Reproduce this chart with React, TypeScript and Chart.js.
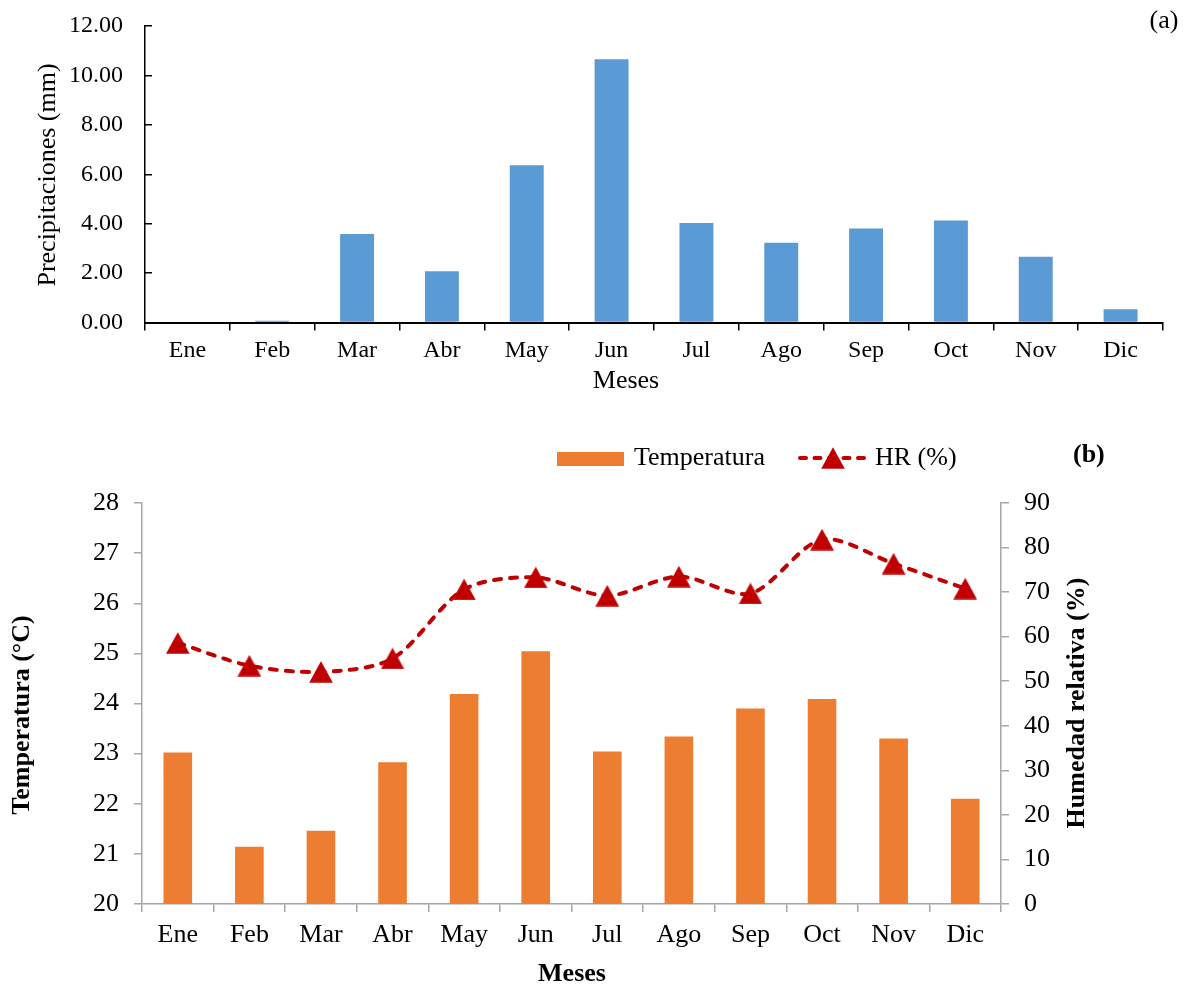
import React, { useEffect, useRef } from 'react';
import { Chart, registerables } from 'chart.js';

Chart.register(...registerables);

const months = ['Ene', 'Feb', 'Mar', 'Abr', 'May', 'Jun', 'Jul', 'Ago', 'Sep', 'Oct', 'Nov', 'Dic'];
const precipitation = [0, 0.07, 3.58, 2.07, 6.36, 10.65, 4.03, 3.23, 3.8, 4.13, 2.66, 0.54];
const temperature = [23.02, 21.14, 21.46, 22.83, 24.19, 25.04, 23.04, 23.34, 23.9, 24.09, 23.3, 22.1];
const humidity = [58.6, 53.5, 52.1, 55.1, 70.6, 73.3, 69.2, 73.5, 69.7, 81.8, 76.4, 70.8];
const precipTicks = [0, 2, 4, 6, 8, 10, 12];
const tempTicks = [20, 21, 22, 23, 24, 25, 26, 27, 28];
const hrTicks = [0, 10, 20, 30, 40, 50, 60, 70, 80, 90];

const SERIF = "'Liberation Serif', 'Times New Roman', serif";
const BLUE = '#5B9BD5';
const ORANGE = '#ED7D31';
const RED = '#C00000';
const GREY = '#A6A6A6';

type TextItem = { text: string; x: number; y: number; size: number; bold?: boolean; align?: CanvasTextAlign; rotate?: number };

function drawText(ctx: CanvasRenderingContext2D, it: TextItem) {
  ctx.save();
  ctx.translate(it.x, it.y);
  if (it.rotate) ctx.rotate(it.rotate);
  ctx.font = `${it.bold ? 'bold ' : ''}${it.size}px ${SERIF}`;
  ctx.fillStyle = '#000';
  ctx.textAlign = it.align || 'center';
  ctx.textBaseline = 'middle';
  ctx.fillText(it.text, 0, 0);
  ctx.restore();
}

function makeTriangle(): HTMLCanvasElement {
  const c = document.createElement('canvas');
  c.width = 24;
  c.height = 22;
  const g = c.getContext('2d')!;
  g.fillStyle = RED;
  g.beginPath();
  g.moveTo(12, 0.2);
  g.lineTo(23.8, 21.8);
  g.lineTo(0.2, 21.8);
  g.closePath();
  g.fill();
  return c;
}

function textPlugin(id: string, items: TextItem[], extra?: (chart: any) => void) {
  return {
    id,
    afterDraw(chart: any) {
      const ctx = chart.ctx as CanvasRenderingContext2D;
      items.forEach((it) => drawText(ctx, it));
      if (extra) extra(chart);
    },
  };
}

const noPad = (s: any) => {
  s.paddingTop = 0;
  s.paddingBottom = 0;
};

export default function App() {
  const refA = useRef<HTMLCanvasElement>(null);
  const refB = useRef<HTMLCanvasElement>(null);

  useEffect(() => {
    const tri = makeTriangle();

    const chartA = new Chart(refA.current!, {
      type: 'bar',
      data: {
        labels: months,
        datasets: [
          {
            label: 'Precipitaciones (mm)',
            data: precipitation,
            backgroundColor: BLUE,
            barPercentage: 0.4,
            categoryPercentage: 1,
          },
        ],
      },
      options: {
        animation: false,
        responsive: false,
        maintainAspectRatio: false,
        layout: { padding: { left: 0, right: 23, top: 26, bottom: 0 } },
        plugins: { legend: { display: false }, tooltip: { enabled: false } },
        scales: {
          x: {
            grid: { display: true, drawOnChartArea: false, drawTicks: true, tickLength: 8, color: '#000', lineWidth: 1.5, offset: true },
            border: { display: true, color: '#000', width: 2 },
            ticks: { color: '#000', font: { family: SERIF, size: 24 }, padding: 6, autoSkip: false, maxRotation: 0 },
            afterFit: (s: any) => { s.height = 77.5; },
          },
          y: {
            min: 0,
            max: 12,
            afterBuildTicks: (s: any) => { s.ticks = precipTicks.map((v) => ({ value: v })); },
            grid: { display: true, drawOnChartArea: false, drawTicks: true, tickLength: -7, color: '#000', lineWidth: 1.5 },
            border: { display: true, color: '#000', width: 1.5 },
            ticks: { color: '#000', font: { family: SERIF, size: 24 }, padding: 29, callback: (v: any) => Number(v).toFixed(2) },
            afterFit: (s: any) => { s.width = 145; noPad(s); },
          },
        },
      },
      plugins: [
        textPlugin('textA', [
          { text: 'Precipitaciones (mm)', x: 48, y: 175, size: 26, rotate: -Math.PI / 2 },
          { text: 'Meses', x: 626, y: 381, size: 26 },
          { text: '(a)', x: 1164, y: 21, size: 26 },
        ]),
      ],
    } as any);

    const legendB = (chart: any) => {
      const ctx = chart.ctx as CanvasRenderingContext2D;
      ctx.save();
      ctx.fillStyle = ORANGE;
      ctx.fillRect(557, 52, 67, 14);
      ctx.strokeStyle = RED;
      ctx.lineWidth = 4;
      ctx.lineCap = 'round';
      ctx.setLineDash([6, 8.5]);
      ctx.beginPath();
      ctx.moveTo(800, 58);
      ctx.lineTo(868, 58);
      ctx.stroke();
      ctx.setLineDash([]);
      ctx.drawImage(tri, 833 - 12, 58 - 11);
      ctx.restore();
      drawText(ctx, { text: 'Temperatura', x: 634, y: 58, size: 26, align: 'left' });
      drawText(ctx, { text: 'HR (%)', x: 875, y: 58, size: 26, align: 'left' });
      drawText(ctx, { text: '(b)', x: 1073, y: 55, size: 26, bold: true, align: 'left' });
    };

    const chartB = new Chart(refB.current!, {
      type: 'bar',
      data: {
        labels: months,
        datasets: [
          {
            type: 'line',
            label: 'HR (%)',
            data: humidity,
            yAxisID: 'y1',
            borderColor: RED,
            backgroundColor: RED,
            borderWidth: 4,
            borderDash: [7, 9],
            borderCapStyle: 'round',
            tension: 0.3,
            pointStyle: tri,
            pointRadius: 11,
            clip: false,
            order: 0,
          },
          {
            type: 'bar',
            label: 'Temperatura',
            data: temperature,
            yAxisID: 'y',
            backgroundColor: ORANGE,
            barPercentage: 0.4,
            categoryPercentage: 1,
            order: 1,
          },
        ],
      },
      options: {
        animation: false,
        responsive: false,
        maintainAspectRatio: false,
        layout: { padding: { left: 0, right: 0, top: 103, bottom: 0 } },
        plugins: { legend: { display: false }, tooltip: { enabled: false } },
        scales: {
          x: {
            offset: true,
            grid: { display: true, drawOnChartArea: false, drawTicks: true, tickLength: 8, color: GREY, lineWidth: 1.5, offset: true },
            border: { display: true, color: GREY, width: 1.5 },
            ticks: { color: '#000', font: { family: SERIF, size: 26 }, padding: 8, autoSkip: false, maxRotation: 0 },
            afterFit: (s: any) => { s.height = 81; },
          },
          y: {
            position: 'left',
            min: 20,
            max: 28,
            afterBuildTicks: (s: any) => { s.ticks = tempTicks.map((v) => ({ value: v })); },
            grid: { display: true, drawOnChartArea: false, drawTicks: true, tickLength: 8, color: GREY, lineWidth: 1.5 },
            border: { display: true, color: GREY, width: 1.5 },
            ticks: { color: '#000', font: { family: SERIF, size: 26 }, padding: 15 },
            afterFit: (s: any) => { s.width = 142; noPad(s); },
          },
          y1: {
            position: 'right',
            min: 0,
            max: 90,
            afterBuildTicks: (s: any) => { s.ticks = hrTicks.map((v) => ({ value: v })); },
            grid: { display: true, drawOnChartArea: false, drawTicks: true, tickLength: 8, color: GREY, lineWidth: 1.5 },
            border: { display: true, color: GREY, width: 1.5 },
            ticks: { color: '#000', font: { family: SERIF, size: 26 }, padding: 15 },
            afterFit: (s: any) => { s.width = 185; noPad(s); },
          },
        },
      },
      plugins: [
        textPlugin(
          'textB',
          [
            { text: 'Temperatura (°C)', x: 22, y: 315, size: 26, bold: true, rotate: -Math.PI / 2 },
            { text: 'Humedad relativa (%)', x: 1077, y: 303, size: 26, bold: true, rotate: -Math.PI / 2 },
            { text: 'Meses', x: 572, y: 574, size: 26, bold: true },
          ],
          legendB
        ),
      ],
    } as any);

    return () => {
      chartA.destroy();
      chartB.destroy();
    };
  }, []);

  return (
    <div style={{ position: 'absolute', left: 0, top: 0, width: 1186, height: 985, background: '#fff' }}>
      <canvas ref={refA} width={1186} height={400} style={{ position: 'absolute', left: 0, top: 0, width: 1186, height: 400 }} />
      <canvas ref={refB} width={1186} height={585} style={{ position: 'absolute', left: 0, top: 400, width: 1186, height: 585 }} />
    </div>
  );
}
